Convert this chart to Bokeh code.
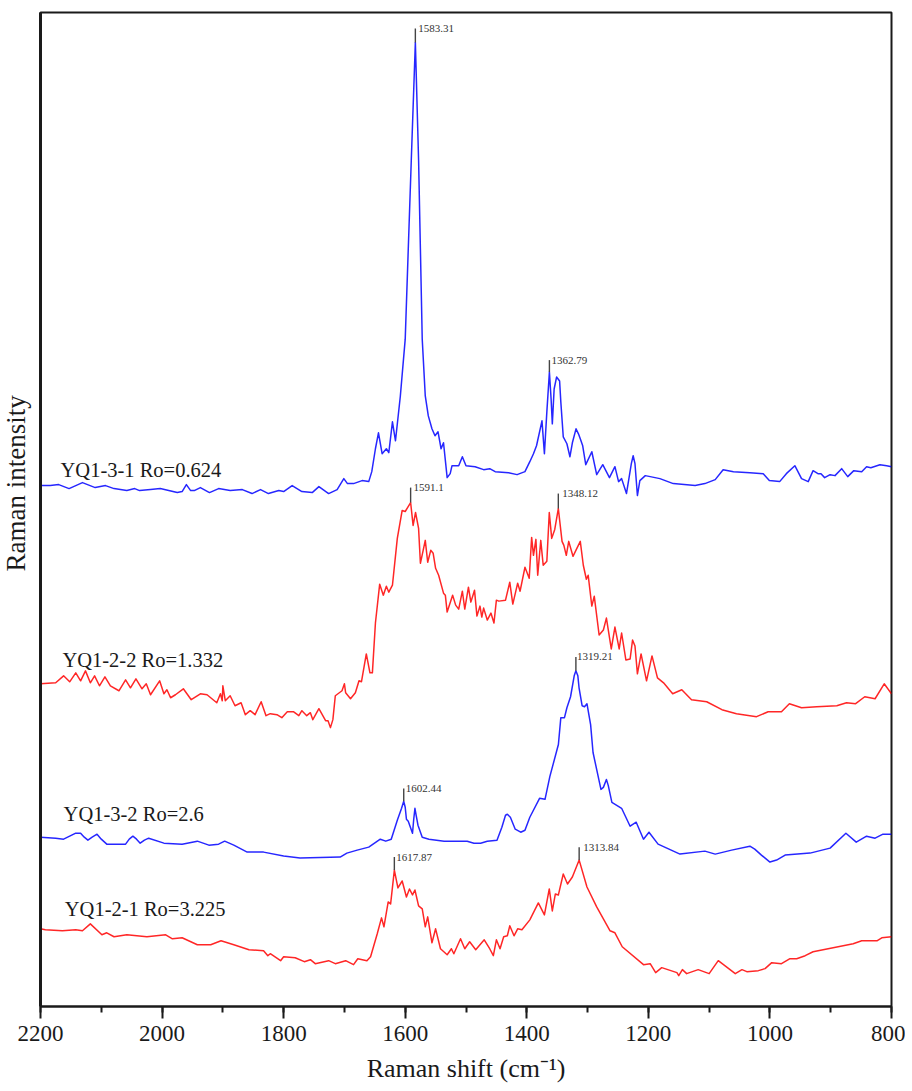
from bokeh.embed import file_html
from bokeh.models import FixedTicker, Range1d, SingleIntervalTicker, Title
from bokeh.plotting import figure
from bokeh.resources import INLINE

# spectra, intensity is in arbitrary units with offsets between samples
shift_1 = [2200, 2184, 2170, 2153, 2131, 2110, 2093, 2079, 2058, 2045, 2037, 2019, 2003, 1975, 1967, 1960, 1953, 1947,
           1937, 1922, 1907, 1888, 1868, 1852, 1838, 1825, 1808, 1800, 1786, 1770, 1753, 1742, 1726, 1712, 1701, 1695,
           1685, 1671, 1660, 1655, 1649, 1644, 1638, 1631, 1627, 1621, 1616, 1608, 1600, 1595, 1590, 1583.31, 1578,
           1575, 1572, 1567, 1562, 1556, 1551, 1546, 1541, 1537, 1531, 1526, 1523, 1512, 1506, 1500, 1485, 1471, 1461,
           1452, 1430, 1416, 1403, 1395, 1389, 1384, 1375, 1371, 1367, 1362.79, 1360, 1358, 1355, 1351, 1346, 1344,
           1340, 1334, 1329, 1325, 1319, 1315, 1312, 1308, 1303, 1293, 1285, 1275, 1264, 1255, 1249, 1244, 1236, 1228,
           1225, 1222, 1218, 1214, 1205, 1181, 1159, 1123, 1107, 1090, 1077, 1060, 1033, 1011, 1001, 984, 973, 959,
           948, 937, 929, 921, 916, 910, 901, 893, 882, 872, 862, 849, 841, 834, 819, 808, 800]
intensity_1 = [523, 523, 524, 520, 526, 521, 523, 520, 518, 520, 518, 519, 520, 516, 517, 524, 518, 518,
               521, 516, 520, 518, 519, 515, 519, 515, 518, 517, 523, 517, 516, 522, 515, 519, 530, 525,
               525, 528, 527, 537, 560, 576, 555, 560, 556, 587, 568, 613, 670, 760, 850, 968, 850,
               760, 670, 613, 593, 580, 573, 577, 560, 566, 531, 535, 543, 543, 552, 543, 542, 539, 540,
               537, 536, 534, 537, 547, 555, 563, 588, 555, 597, 637, 610, 585, 620, 632, 628, 607,
               572, 565, 552, 566, 580, 575, 570, 563, 544, 557, 534, 544, 531, 542, 527, 530, 515, 545,
               553, 545, 513, 528, 533, 530, 525, 523, 525, 529, 539, 537, 536, 535, 528, 527, 535, 543,
               530, 527, 538, 535, 535, 531, 534, 533, 540, 532, 538, 537, 542, 541, 544, 543, 542]

shift_2 = [2200, 2175, 2162, 2152, 2142, 2134, 2126, 2118, 2111, 2103, 2094, 2085, 2071, 2060, 2052, 2043, 2033, 2026,
           2019, 2004, 1997, 1992, 1986, 1978, 1965, 1952, 1937, 1926, 1910, 1904, 1901, 1900, 1896, 1888, 1880, 1870,
           1863, 1855, 1847, 1837, 1829, 1822, 1811, 1803, 1794, 1784, 1775, 1770, 1762, 1756, 1752, 1742, 1731, 1727,
           1723, 1719, 1715, 1704, 1700, 1698, 1690, 1682, 1676, 1672, 1664, 1658, 1654, 1649, 1642, 1636, 1631, 1627,
           1621, 1613, 1605, 1600, 1591.1, 1587, 1583, 1578, 1575, 1567, 1563, 1558, 1554, 1550, 1545, 1537, 1534,
           1531, 1522, 1517, 1512, 1506, 1502, 1496, 1492, 1486, 1482, 1477, 1474, 1471, 1465, 1459, 1454, 1450, 1446,
           1435, 1428, 1423, 1415, 1411, 1403, 1396, 1392, 1389, 1385, 1382, 1377, 1373, 1367, 1363, 1359, 1354,
           1348.12, 1342, 1339, 1335, 1331, 1324, 1312, 1307, 1302, 1299, 1293, 1289, 1281, 1274, 1269, 1261, 1255,
           1248, 1244, 1237, 1230, 1226, 1222, 1218, 1212, 1203, 1194, 1185, 1175, 1160, 1145, 1129, 1104, 1079, 1055,
           1022, 1003, 981, 968, 948, 923, 890, 874, 859, 844, 827, 812, 800]
intensity_2 = [324, 325, 332, 326, 335, 327, 337, 325, 332, 322, 331, 322, 317, 328, 320, 329, 319, 324,
               313, 327, 314, 318, 310, 313, 319, 308, 314, 313, 305, 314, 307, 322, 307, 312, 302, 305,
               293, 297, 293, 306, 292, 294, 293, 290, 296, 296, 292, 297, 292, 295, 288, 299, 287, 287,
               280, 288, 312, 317, 324, 315, 309, 315, 327, 326, 354, 335, 335, 385, 424, 413, 422, 416,
               423, 470, 498, 497, 506, 483, 496, 480, 445, 468, 446, 458, 455, 440, 433, 415, 413,
               396, 413, 403, 399, 417, 399, 421, 406, 418, 392, 402, 391, 400, 388, 395, 385, 408, 407,
               408, 426, 404, 425, 417, 441, 430, 471, 453, 469, 433, 468, 443, 447, 496, 470, 479,
               500, 467, 463, 453, 467, 452, 467, 443, 429, 433, 402, 412, 373, 378, 390, 359, 381,
               359, 375, 348, 349, 368, 362, 334, 354, 327, 352, 330, 325, 314, 318, 308, 306, 298, 294,
               291, 296, 296, 304, 300, 301, 302, 305, 304, 311, 309, 324, 314]

shift_3 = [2200, 2175, 2162, 2152, 2142, 2134, 2128, 2122, 2115, 2107, 2100, 2091, 2060, 2054, 2048, 2042, 2036, 2029,
           2022, 1997, 1967, 1942, 1923, 1907, 1897, 1882, 1860, 1833, 1800, 1773, 1707, 1696, 1679, 1660, 1641, 1632,
           1623, 1613, 1606, 1602.44, 1600, 1598, 1595, 1588, 1586, 1584, 1582, 1579, 1572, 1561, 1536, 1498, 1487,
           1476, 1465, 1449, 1441, 1435, 1432, 1427, 1419, 1410, 1403, 1395, 1379, 1370, 1362, 1348, 1344, 1338, 1334,
           1328, 1322, 1319.21, 1316, 1314, 1309, 1305, 1301, 1295, 1291, 1278, 1274, 1269, 1266, 1260, 1244, 1230,
           1220, 1208, 1199, 1184, 1148, 1107, 1090, 1063, 1033, 1025, 1014, 1000, 989, 975, 934, 901, 875, 858, 841,
           827, 814, 800]
intensity_3 = [170, 169, 168, 171, 174, 174, 170, 167, 170, 173, 168, 163, 163, 168, 171, 168, 164, 167,
               169, 164, 163, 166, 162, 163, 166, 162, 155, 155, 151, 149, 150, 154, 157, 160, 168, 166,
               168, 187, 199, 206, 200, 188, 186, 174, 188, 199, 192, 182, 170, 168, 166, 166, 164,
               164, 166, 167, 180, 192, 193, 190, 178, 175, 177, 190, 209, 208, 231, 263, 290, 290, 300,
               311, 332, 337, 332, 320, 302, 301, 304, 283, 255, 218, 220, 228, 222, 205, 199, 181,
               185, 168, 175, 163, 153, 156, 153, 157, 161, 158, 152, 145, 147, 152, 154, 159, 174, 165, 171,
               169, 173, 173]

shift_4 = [2200, 2192, 2164, 2142, 2131, 2118, 2099, 2091, 2079, 2058, 2025, 1994, 1983, 1967, 1942, 1920, 1903, 1882,
           1857, 1833, 1826, 1822, 1805, 1800, 1781, 1766, 1756, 1748, 1726, 1715, 1698, 1685, 1678, 1663, 1657, 1646,
           1639, 1635, 1628, 1624, 1617.87, 1612, 1605, 1598, 1593, 1588, 1584, 1578, 1572, 1567, 1563, 1556, 1550,
           1542, 1531, 1524, 1520, 1509, 1502, 1494, 1484, 1470, 1461, 1455, 1450, 1444, 1438, 1432, 1428, 1421, 1415,
           1408, 1395, 1381, 1371, 1363, 1358, 1353, 1348, 1340, 1333, 1325, 1313.84, 1301, 1285, 1263, 1255, 1243,
           1208, 1197, 1188, 1178, 1153, 1150, 1144, 1137, 1118, 1100, 1085, 1057, 1046, 1038, 1019, 1008, 997, 981,
           967, 956, 942, 929, 896, 863, 849, 824, 816, 800]
intensity_4 = [78, 77, 76, 77, 76, 83, 72, 74, 70, 72, 70, 72, 68, 69, 62, 62, 66, 62,
               57, 56, 51, 53, 46, 50, 49, 45, 47, 43, 46, 43, 46, 42, 48, 46, 50, 73,
               89, 80, 105, 103, 137, 119, 126, 110, 118, 112, 117, 101, 98, 80, 90, 64, 78,
               58, 52, 58, 53, 68, 58, 65, 57, 67, 58, 51, 67, 58, 70, 71, 81, 71, 78,
               77, 87, 104, 92, 118, 96, 113, 112, 133, 123, 130, 147, 120, 100, 76, 74, 60,
               42, 43, 34, 39, 34, 31, 37, 33, 37, 33, 46, 33, 37, 35, 36, 38, 44, 43,
               48, 48, 51, 55, 59, 63, 66, 66, 69, 70]

peak_shift = [1583.31, 1362.79, 1591.1, 1348.12, 1319.21, 1602.44, 1617.87, 1313.84]
peak_top = [968, 637, 506, 500, 337, 206, 137, 147]
peak_mark = [982, 649, 521, 515, 351, 219, 150, 160]
peak_text = ["1583.31", "1362.79", "1591.1", "1348.12", "1319.21", "1602.44", "1617.87", "1313.84"]
peak_text_dx = [3, 2, 3, 4, 1, 2, 2, 4]

sample_names = ["YQ1-3-1 Ro=0.624", "YQ1-2-2 Ro=1.332", "YQ1-3-2 Ro=2.6", "YQ1-2-1 Ro=3.225"]
sample_shift = [2167, 2164, 2162, 2160]
sample_level = [539, 348, 193, 98]

FONT = "Liberation Serif"
INK = "#1a1a1a"

p = figure(width=917, height=1085, output_backend="svg", toolbar_location=None, tools="",
           x_range=Range1d(2200, 800), y_range=Range1d(0, 998),
           min_border_left=40, min_border_right=14, min_border_top=12, min_border_bottom=75)
# the title panel is wider than the original's left gap, pull the figure back so the frame stays put
p.margin = (0, 0, 0, -12)

p.grid.visible = False
p.background_fill_color = "white"
p.outline_line_color = INK
p.outline_line_width = 2

p.xaxis.ticker = SingleIntervalTicker(interval=200, num_minor_ticks=2)
p.xaxis.axis_line_color = INK
p.xaxis.axis_line_width = 2
p.xaxis.major_tick_line_color = INK
p.xaxis.minor_tick_line_color = INK
p.xaxis.major_tick_line_width = 2
p.xaxis.minor_tick_line_width = 2
p.xaxis.major_tick_in = 0
p.xaxis.major_tick_out = 12
p.xaxis.minor_tick_in = 0
p.xaxis.minor_tick_out = 6
p.xaxis.major_label_text_font = FONT
p.xaxis.major_label_text_font_size = "23px"
p.xaxis.major_label_text_color = INK
p.xaxis.major_label_standoff = 7
p.xaxis.axis_label = "Raman shift (cm\u207b\u00b9)"
p.xaxis.axis_label_text_font = FONT
p.xaxis.axis_label_text_font_style = "normal"
p.xaxis.axis_label_text_font_size = "26px"
p.xaxis.axis_label_text_color = INK
p.xaxis.axis_label_standoff = 10

p.yaxis.ticker = FixedTicker(ticks=[])
p.yaxis.axis_line_color = INK
p.yaxis.axis_line_width = 3

p.line(shift_1, intensity_1, line_color="#0000ff", line_width=1.5, line_alpha=0.85, line_join="round")
p.line(shift_2, intensity_2, line_color="#ff0000", line_width=1.5, line_alpha=0.85, line_join="round")
p.line(shift_3, intensity_3, line_color="#0000ff", line_width=1.5, line_alpha=0.85, line_join="round")
p.line(shift_4, intensity_4, line_color="#ff0000", line_width=1.5, line_alpha=0.85, line_join="round")

p.segment(peak_shift, peak_top, peak_shift, peak_mark, line_color="#444444", line_width=1.4)
for x, y, label, dx in zip(peak_shift, peak_mark, peak_text, peak_text_dx):
    p.text([x], [y], text=[label], x_offset=dx, text_baseline="middle", text_align="left",
           text_font=FONT, text_font_size="11px", text_color="#333333")

p.text(sample_shift, sample_level, text=sample_names, text_baseline="middle", text_align="left",
       text_font=FONT, text_font_size="20.5px", text_color=INK)

# y title sits above the middle of the axis in the original, a Title can be moved with offset
p.add_layout(Title(text="Raman intensity", align="left", offset=435, standoff=20,
                   text_font=FONT, text_font_size="27px", text_font_style="normal", text_color=INK), "left")

open("out.html", "w").write(file_html(p, INLINE))
